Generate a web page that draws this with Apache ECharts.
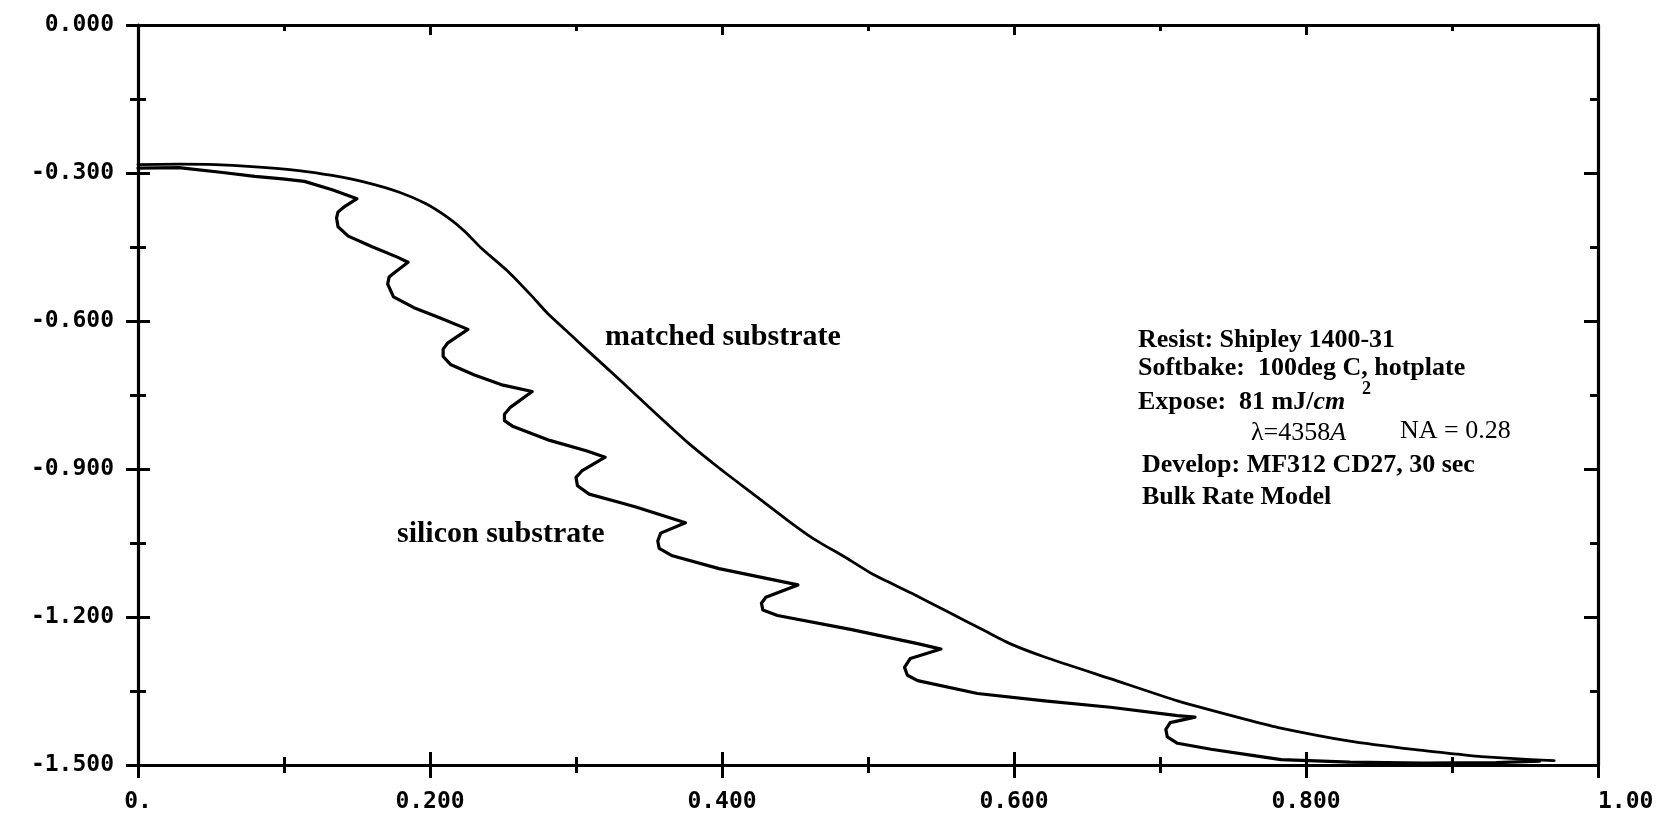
<!DOCTYPE html>
<html>
<head>
<meta charset="utf-8">
<title>Resist profiles: silicon vs matched substrate</title>
<script src="https://cdn.jsdelivr.net/npm/echarts@6/dist/echarts.min.js"></script>
<style>
  html, body { margin: 0; padding: 0; background: #ffffff; }
  #chart { width: 1661px; height: 830px; }
</style>
</head>
<body>
<div id="chart"></div>
<script>
// Developed resist edge profiles: lateral position (x) vs depth (y)

// Silicon substrate: standing-wave ripples along the sidewall
const siliconX = [0.000, 0.028, 0.058, 0.080, 0.099, 0.114, 0.133, 0.150, 0.142, 0.137,
  0.136, 0.137, 0.144, 0.160, 0.178, 0.185, 0.176, 0.172, 0.171, 0.175, 0.189, 0.207,
  0.226, 0.212, 0.209, 0.209, 0.214, 0.230, 0.250, 0.270, 0.255, 0.251, 0.251, 0.257,
  0.282, 0.307, 0.320, 0.304, 0.300, 0.301, 0.309, 0.330, 0.341, 0.375, 0.358,
  0.356, 0.357, 0.366, 0.398, 0.452, 0.430, 0.427, 0.428, 0.438, 0.488, 0.534, 0.550,
  0.529, 0.525, 0.527, 0.534, 0.575, 0.621, 0.666, 0.712, 0.724, 0.707, 0.704, 0.705,
  0.712, 0.735, 0.762, 0.783, 0.830, 0.880, 0.930, 0.960];
const siliconY = [-0.290, -0.289, -0.299, -0.307, -0.312, -0.317, -0.334, -0.352, -0.367, -0.379,
  -0.391, -0.409, -0.428, -0.449, -0.471, -0.481, -0.501, -0.511, -0.525, -0.551, -0.573, -0.594,
  -0.617, -0.645, -0.657, -0.672, -0.688, -0.709, -0.730, -0.743, -0.775, -0.789, -0.802, -0.814,
  -0.842, -0.863, -0.876, -0.904, -0.917, -0.934, -0.951, -0.968, -0.977, -1.009, -1.030,
  -1.046, -1.061, -1.076, -1.102, -1.135, -1.160, -1.172, -1.186, -1.197, -1.225, -1.254, -1.265,
  -1.284, -1.302, -1.318, -1.329, -1.355, -1.370, -1.383, -1.400, -1.403, -1.414, -1.428, -1.443,
  -1.456, -1.468, -1.480, -1.489, -1.494, -1.496, -1.495, -1.492];

// Matched substrate: smooth sidewall
const matchedX = [0.000, 0.028, 0.053, 0.078, 0.110, 0.133, 0.156, 0.179, 0.197, 0.213,
  0.224, 0.235, 0.254, 0.269, 0.281, 0.296, 0.308, 0.331, 0.353, 0.376,
  0.398, 0.421, 0.444, 0.462, 0.485, 0.503, 0.530, 0.553, 0.580, 0.598,
  0.621, 0.667, 0.712, 0.758, 0.781, 0.829, 0.875, 0.904, 0.920, 0.954,
  0.970];
const matchedY = [-0.283, -0.282, -0.283, -0.287, -0.295, -0.305, -0.319, -0.339, -0.362, -0.392,
  -0.419, -0.452, -0.501, -0.547, -0.586, -0.627, -0.660, -0.722, -0.783, -0.845,
  -0.898, -0.950, -1.002, -1.040, -1.080, -1.113, -1.152, -1.187, -1.228, -1.255,
  -1.281, -1.326, -1.370, -1.407, -1.424, -1.451, -1.469, -1.478, -1.483, -1.489,
  -1.491];

// Tick labels as printed on the axes
const xTickValues = [0, 0.2, 0.4, 0.6, 0.8, 1.0];
const xTickLabels = ['0.', '0.200', '0.400', '0.600', '0.800', '1.00'];
const yTickValues = [-1.5, -1.2, -0.9, -0.6, -0.3, 0];
const yTickLabels = ['-1.500', '-1.200', '-0.900', '-0.600', '-0.300', '0.000'];

// Annotation text
const curveNames = ['silicon substrate', 'matched substrate'];
const infoLines = [
  'Resist: Shipley 1400-31',
  'Softbake:  100deg C, hotplate',
  'Expose:  81 mJ/',
  'cm',
  '2',
  '\u03bb=4358',
  'A',
  'NA = 0.28',
  'Develop: MF312 CD27, 30 sec',
  'Bulk Rate Model'
];

function lookup(values, labels, v) {
  for (let i = 0; i < values.length; i++) {
    if (Math.abs(values[i] - v) < 1e-6) return labels[i];
  }
  return '';
}

const pairs = (xs, ys) => xs.map((x, i) => [x, ys[i]]);

const INK = '#000000';
const AXIS_W = 3.2;
const tickFont = { fontFamily: 'DejaVu Sans Mono', fontWeight: 'bold', fontSize: 23, color: INK };
const serif = 'Liberation Serif';

function xAxisCfg(position, inside, showLine, showLabel, major, minor) {
  return {
    type: 'value', position: position, min: 0, max: 1, interval: 0.2,
    splitLine: { show: false },
    axisLine: { show: showLine, onZero: false, lineStyle: { color: INK, width: AXIS_W } },
    axisTick: { show: true, inside: inside, length: major, lineStyle: { color: INK, width: 3 } },
    minorTick: { show: true, splitNumber: 2, length: minor, lineStyle: { color: INK, width: 3 } },
    axisLabel: Object.assign({
      show: showLabel, margin: 26, alignMaxLabel: 'left',
      formatter: v => lookup(xTickValues, xTickLabels, v)
    }, tickFont)
  };
}

function yAxisCfg(position, inside, showLine, showLabel, major, minor) {
  return {
    type: 'value', position: position, min: -1.5, max: 0, interval: 0.3,
    splitLine: { show: false },
    axisLine: { show: showLine, onZero: false, lineStyle: { color: INK, width: AXIS_W } },
    axisTick: { show: true, inside: inside, length: major, lineStyle: { color: INK, width: 3 } },
    minorTick: { show: true, splitNumber: 2, length: minor, lineStyle: { color: INK, width: 3 } },
    axisLabel: Object.assign({
      show: showLabel, margin: 24,
      formatter: v => lookup(yTickValues, yTickLabels, v)
    }, tickFont)
  };
}

function label(text, x, y, size, extra) {
  return {
    type: 'text', x: x, y: y, silent: true,
    style: Object.assign({
      text: text, fill: INK, align: 'left', verticalAlign: 'middle',
      font: 'bold ' + size + 'px "' + serif + '"'
    }, extra || {})
  };
}

const chart = echarts.init(document.getElementById('chart'), null, { renderer: 'canvas' });

chart.setOption({
  backgroundColor: '#ffffff',
  animation: false,
  grid: { left: 138, right: 63, top: 25, bottom: 65, containLabel: false },
  xAxis: [
    xAxisCfg('bottom', false, true, true, 13, 8),
    xAxisCfg('bottom', true, false, false, 13, 8),
    xAxisCfg('top', true, true, false, 10, 6)
  ],
  yAxis: [
    yAxisCfg('left', false, true, true, 12, 8),
    yAxisCfg('left', true, false, false, 12, 8),
    yAxisCfg('right', true, true, false, 14, 8)
  ],
  series: [
    {
      name: curveNames[0], type: 'line', xAxisIndex: 0, yAxisIndex: 0,
      data: pairs(siliconX, siliconY), showSymbol: false, smooth: false,
      lineStyle: { color: INK, width: 3.2, join: 'round', cap: 'round' }
    },
    {
      name: curveNames[1], type: 'line', xAxisIndex: 0, yAxisIndex: 0,
      data: pairs(matchedX, matchedY), showSymbol: false, smooth: 0.2,
      lineStyle: { color: INK, width: 2.8, join: 'round', cap: 'round' }
    }
  ],
  graphic: [
    label(curveNames[1], 605, 337, 30),
    label(curveNames[0], 397, 534, 30),
    label(infoLines[0], 1138, 340, 26),
    label(infoLines[1], 1138, 368, 26),
    {
      type: 'text', x: 1138, y: 402, silent: true,
      style: {
        text: '{n|' + infoLines[2] + '}{i|' + infoLines[3] + '}',
        fill: INK, align: 'left', verticalAlign: 'middle',
        rich: {
          n: { fontFamily: serif, fontWeight: 'bold', fontSize: 26, fill: INK },
          i: { fontFamily: serif, fontWeight: 'bold', fontStyle: 'italic', fontSize: 26, fill: INK }
        }
      }
    },
    label(infoLines[4], 1362, 389, 18),
    {
      type: 'text', x: 1251, y: 433, silent: true,
      style: {
        text: '{n|' + infoLines[5] + '}{i|' + infoLines[6] + '}',
        fill: INK, align: 'left', verticalAlign: 'middle',
        rich: {
          n: { fontFamily: serif, fontSize: 26, fill: INK },
          i: { fontFamily: serif, fontStyle: 'italic', fontSize: 26, fill: INK }
        }
      }
    },
    label(infoLines[7], 1400, 431, 26, { font: '26px "' + serif + '"' }),
    label(infoLines[8], 1142, 465, 26),
    label(infoLines[9], 1142, 497, 26)
  ]
});
</script>
</body>
</html>
